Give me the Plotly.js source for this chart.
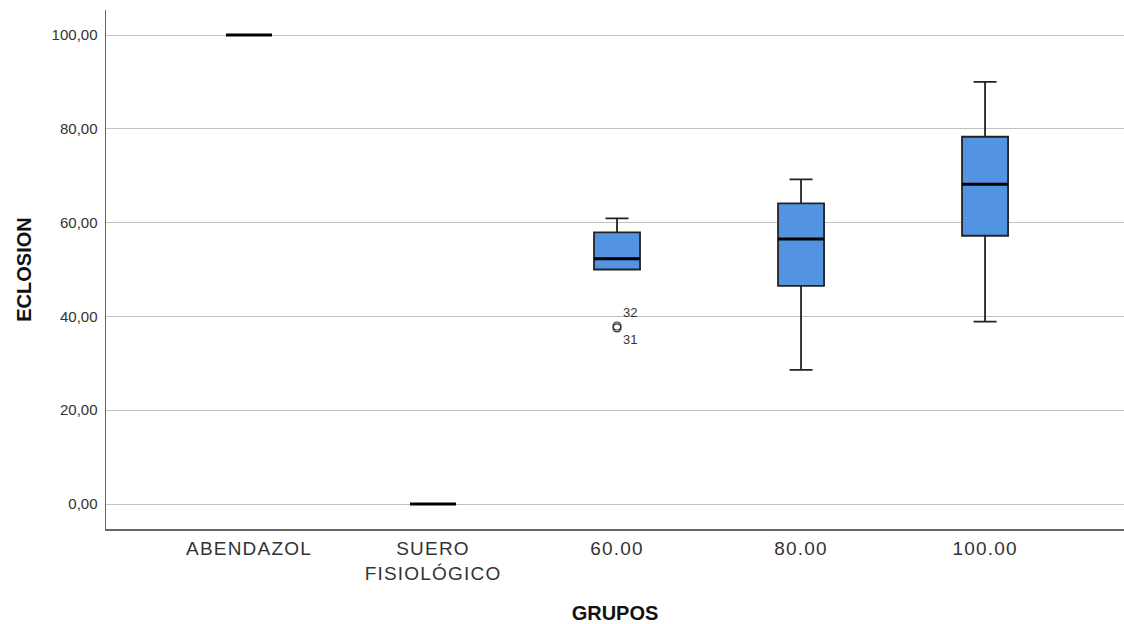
<!DOCTYPE html>
<html>
<head>
<meta charset="utf-8">
<script src="https://cdn.plot.ly/plotly-3.0.1.min.js"></script>
<style>
  html, body { margin: 0; padding: 0; background: #fff; }
  #chart { width: 1124px; height: 624px; }
  .xtick text { letter-spacing: 1.2px; }
</style>
</head>
<body>
<div id="chart"></div>
<script>
// ---- data ----
const categories = ['ABENDAZOL', 'SUERO<br>FISIOLÓGICO', '60.00', '80.00', '100.00'];
const lowerWhisker = [100, 0, 50.0, 28.6, 38.9];
const q1Values     = [100, 0, 50.0, 46.5, 57.2];
const medianValues = [100, 0, 52.3, 56.5, 68.2];
const q3Values     = [100, 0, 57.9, 64.1, 78.3];
const upperWhisker = [100, 0, 60.9, 69.2, 90.0];

const outlierGroup  = ['60.00', '60.00'];
const outlierValues = [37.95, 37.55];
const outlierLabels = ['32', '31'];

const yTickValues = [0, 20, 40, 60, 80, 100];
const yTickLabels = ['0,00', '20,00', '40,00', '60,00', '80,00', '100,00'];

// ---- build traces ----
const positions = categories.map((c, i) => i + 1);
const boxWidth = 0.25;

const boxTrace = {
  type: 'box',
  x: positions,
  q1: q1Values,
  median: medianValues,
  q3: q3Values,
  lowerfence: lowerWhisker,
  upperfence: upperWhisker,
  width: boxWidth,
  whiskerwidth: 0.5,
  boxpoints: false,
  fillcolor: '#5294E2',
  line: { color: '#222', width: 1.8 },
  hoverinfo: 'skip',
  showlegend: false
};

const medX = [], medY = [];
positions.forEach((p, i) => {
  medX.push(p - boxWidth / 2, p + boxWidth / 2, null);
  medY.push(medianValues[i], medianValues[i], null);
});
const medianTrace = {
  type: 'scatter', mode: 'lines',
  x: medX, y: medY,
  line: { color: '#000', width: 3 },
  hoverinfo: 'skip', showlegend: false
};

const outlierTrace = {
  type: 'scatter', mode: 'markers+text',
  x: outlierGroup.map(g => categories.indexOf(g) + 1),
  y: outlierValues,
  text: outlierLabels,
  textposition: ['top right', 'bottom right'],
  textfont: { family: 'Liberation Sans, Arial, sans-serif', size: 13, color: '#333' },
  marker: { symbol: 'circle-open', size: 8, color: '#333', line: { width: 1.2, color: '#333' } },
  hoverinfo: 'skip', showlegend: false
};

const layout = {
  width: 1124, height: 624,
  margin: { l: 106, r: 0, t: 10, b: 95 },
  paper_bgcolor: '#fff', plot_bgcolor: '#fff',
  font: { family: 'Liberation Sans, Arial, sans-serif', color: '#333' },
  showlegend: false,
  xaxis: {
    range: [0.223, 5.755],
    tickvals: positions,
    ticktext: categories,
    tickfont: { size: 19, color: '#333' },
    showgrid: false, zeroline: false,
    showline: true, linecolor: '#666', linewidth: 1.5,
    ticks: '', ticklabelstandoff: 2,
    title: { text: 'GRUPOS', font: { size: 20, weight: 'bold', color: '#111' }, standoff: 24 }
  },
  yaxis: {
    range: [-5.33, 105.33],
    tickvals: yTickValues,
    ticktext: yTickLabels,
    tickfont: { size: 15, color: '#333' },
    showgrid: true, gridcolor: '#c0c0c0', gridwidth: 1,
    zeroline: false,
    showline: true, linecolor: '#666', linewidth: 1.5,
    ticks: '', ticklabelstandoff: 4,
    title: { text: 'ECLOSION', font: { size: 20, weight: 'bold', color: '#111' }, standoff: 14 }
  }
};

Plotly.newPlot('chart', [boxTrace, medianTrace, outlierTrace], layout, { displayModeBar: false, staticPlot: true });
</script>
</body>
</html>
